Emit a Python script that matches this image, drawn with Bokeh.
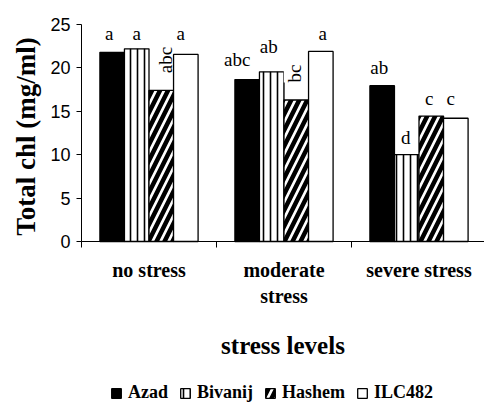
import numpy as np
from bokeh.plotting import figure
from bokeh.models import (ColumnDataSource, Range1d, FixedTicker, Legend, LegendItem)
from bokeh.core.properties import value
from bokeh.embed import file_html
from bokeh.resources import INLINE

# ---- data ----
stress_levels = ["no stress", "moderate\nstress", "severe stress"]
varieties = ["Azad", "Bivanij", "Hashem", "ILC482"]
azad = [21.8, 18.65, 17.95]
bivanij = [22.2, 19.55, 10.0]
hashem = [17.4, 16.3, 14.45]
ilc482 = [21.55, 21.9, 14.2]
y_ticks = [0, 5, 10, 15, 20, 25]
y_title = "Total chl (mg/ml)"
x_title = "stress levels"

# significance letters
azad_sig = ["a", "abc", "ab"]
bivanij_sig = ["a", "ab", "d"]
hashem_sig = ["abc", "bc", "c"]
ilc482_sig = ["a", "a", "c"]

# annotation placement (letter heights in axis units, rotation, nudges in px)
azad_lab_y = [24.0, 21.0, 20.1]
bivanij_lab_y = [24.0, 22.5, 12.0]
hashem_lab_y = [20.9, 19.35, 16.5]
ilc482_lab_y = [24.0, 24.0, 16.5]
azad_dx = [-3, -10, -3]
bivanij_dx = [0, -3, -1]
hashem_dx = [4, -2, -2]
ilc482_dx = [-5, 2, -5]
hashem_rot = [True, True, False]

series = [azad, bivanij, hashem, ilc482]
sigs = [azad_sig, bivanij_sig, hashem_sig, ilc482_sig]
lab_ys = [azad_lab_y, bivanij_lab_y, hashem_lab_y, ilc482_lab_y]
dxs = [azad_dx, bivanij_dx, hashem_dx, ilc482_dx]
rots = [[False] * 3, [False] * 3, hashem_rot, [False] * 3]

styles = [
    dict(fill_color="black", hatch_pattern=None),
    dict(fill_color="white", hatch_pattern="vertical_line", hatch_color="black",
         hatch_scale=7, hatch_weight=1.6),
    dict(fill_color="white", hatch_pattern="right_diagonal_line", hatch_color="black",
         hatch_scale=16, hatch_weight=4.5),
    dict(fill_color="white", hatch_pattern=None),
]

n_ser = len(varieties)
n_cat = len(stress_levels)
bar_w = 1 / 5.5
centers = np.arange(n_cat) + 0.5

# the frame covers the whole canvas; axes are pinned at 0 so that the
# labels, titles and legend all sit inside it
px_per_cat = 135.0
px_per_unit = 217 / 25
x_start = -81 / px_per_cat
x_end = 403 / px_per_cat
y_top = 25 + 24 / px_per_unit
y_bottom = -162 / px_per_unit

p = figure(frame_width=484, frame_height=403, output_backend="svg", toolbar_location=None,
           title=None,
           x_range=Range1d(x_start, x_end), y_range=Range1d(y_bottom, y_top),
           min_border_left=0, min_border_right=0, min_border_top=0,
           min_border_bottom=0)
p.outline_line_color = None
p.xgrid.visible = False
p.ygrid.visible = False
p.background_fill_color = "white"
p.border_fill_color = "white"

items = []
for j, (name, vals) in enumerate(zip(varieties, series)):
    xs = centers + (j - (n_ser - 1) / 2) * bar_w
    src = ColumnDataSource(dict(x=xs, top=vals))
    st = styles[j]
    kw = dict(line_color="black", line_width=1.3, fill_color=st["fill_color"])
    if st.get("hatch_pattern"):
        kw.update(hatch_pattern=st["hatch_pattern"], hatch_color=st["hatch_color"],
                  hatch_scale=st["hatch_scale"], hatch_weight=st["hatch_weight"])
    r = p.vbar(x="x", top="top", width=bar_w, bottom=0, source=src, **kw)
    items.append(LegendItem(label=name, renderers=[r]))

    up = [i for i in range(3) if not rots[j][i]]
    rt = [i for i in range(3) if rots[j][i]]
    if up:
        p.text(x=[xs[i] for i in up], y=[lab_ys[j][i] for i in up],
               text=[sigs[j][i] for i in up], x_offset=[dxs[j][i] for i in up],
               text_font=value("Liberation Serif"), text_font_size="19px",
               text_align="center", text_baseline="alphabetic", text_color="black")
    if rt:
        p.text(x=[xs[i] for i in rt], y=[lab_ys[j][i] for i in rt],
               text=[sigs[j][i] for i in rt], x_offset=[dxs[j][i] for i in rt],
               angle=np.pi / 2,
               text_font=value("Liberation Serif"), text_font_size="19px",
               text_align="center", text_baseline="middle", text_color="black",
               background_fill_color="white")

# y axis title (drawn as rotated text left of the value axis)
p.text(x=[x_start + 25 / px_per_cat], y=[(241 - 136) / px_per_unit], text=[y_title],
       angle=np.pi / 2, text_font=value("Liberation Serif"), text_font_style="bold",
       text_font_size="27px", text_align="center", text_baseline="middle",
       text_color="black")

# y axis
ya = p.yaxis[0]
ya.fixed_location = 0
ya.ticker = FixedTicker(ticks=y_ticks)
ya.bounds = (0, 25)
ya.major_label_text_font = "Liberation Sans"
ya.major_label_text_font_size = "18px"
ya.major_label_text_color = "black"
ya.major_label_standoff = 6
ya.major_tick_out = 5
ya.major_tick_in = 0
ya.minor_tick_out = 0
ya.minor_tick_in = 0
ya.axis_line_color = "black"
ya.major_tick_line_color = "black"

# x axis at value 0: labels at category centres, ticks at category boundaries
xa = p.xaxis[0]
xa.fixed_location = 0
xa.bounds = (0, n_cat)
xa.ticker = FixedTicker(ticks=list(centers), minor_ticks=list(range(n_cat + 1)))
xa.major_label_overrides = {float(c): s for c, s in zip(centers, stress_levels)}
xa.major_label_text_font = "Liberation Serif"
xa.major_label_text_font_style = "bold"
xa.major_label_text_font_size = "20px"
xa.major_label_text_color = "black"
xa.major_label_standoff = 11
xa.major_tick_out = 0
xa.major_tick_in = 0
xa.minor_tick_out = 6
xa.minor_tick_in = 0
xa.minor_tick_line_color = "black"
xa.axis_line_color = "black"
xa.axis_label = x_title
xa.axis_label_text_font = "Liberation Serif"
xa.axis_label_text_font_style = "bold"
xa.axis_label_text_font_size = "25px"
xa.axis_label_text_color = "black"
xa.axis_label_standoff = 22

legend = Legend(items=items, orientation="horizontal", location=(110, 0),
                glyph_width=12, glyph_height=12, label_standoff=6, spacing=11,
                padding=0, margin=0, border_line_color=None, background_fill_alpha=0,
                label_text_font="Liberation Serif", label_text_font_style="bold",
                label_text_font_size="18px", label_text_color="black")
p.add_layout(legend)

open("out.html", "w").write(file_html(p, INLINE))
